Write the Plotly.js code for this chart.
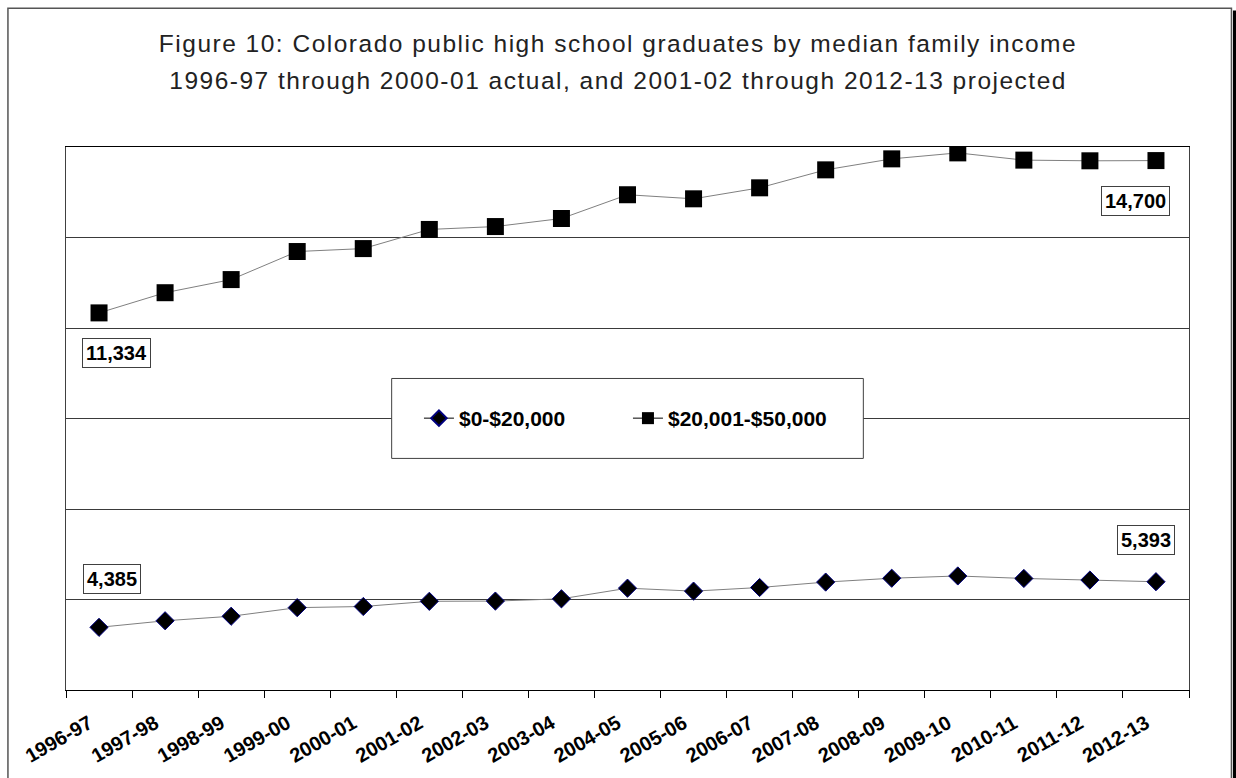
<!DOCTYPE html>
<html>
<head>
<meta charset="utf-8">
<script src="https://cdn.plot.ly/plotly-3.0.1.min.js"></script>
<style>
  html, body { margin: 0; padding: 0; background: #fff; }
  #chart { width: 1236px; height: 778px; }
  #chart .gtitle { letter-spacing: 1.5px; }
  #chart .annotation[data-index="0"] .annotation-text { letter-spacing: 1.5px; }
  #chart .legend .legendlines path { stroke-width: 1px !important; stroke: #000 !important; }
</style>
</head>
<body>
<div id="chart"></div>
<script>
const titleLine1 = 'Figure 10: Colorado public high school graduates by median family income';
const titleLine2 = '1996-97 through 2000-01 actual, and 2001-02 through 2012-13 projected';

const categories = ['1996-97','1997-98','1998-99','1999-00','2000-01','2001-02','2002-03','2003-04',
  '2004-05','2005-06','2006-07','2007-08','2008-09','2009-10','2010-11','2011-12','2012-13'];

const seriesNames = ['$0-$20,000', '$20,001-$50,000'];

const lowIncome = [4385, 4530, 4630, 4820, 4845, 4960, 4965, 5015, 5250, 5185, 5265, 5385, 5470, 5520, 5465, 5430, 5393];
const midIncome = [11334, 11780, 12070, 12690, 12755, 13178, 13242, 13420, 13945, 13855, 14098, 14495, 14738, 14870, 14710, 14695, 14700];

const yRange = [3000, 15000];
const yStep = 2000;

const fontFamily = '"Liberation Sans", Arial, Helvetica, sans-serif';

const traces = [
  {
    type: 'scatter', mode: 'lines+markers', name: seriesNames[0],
    x: categories, y: lowIncome,
    line: { color: '#808080', width: 1 },
    marker: { symbol: 'diamond', size: 14, color: '#000000', line: { color: '#000080', width: 1 } },
    hoverinfo: 'x+y+name'
  },
  {
    type: 'scatter', mode: 'lines+markers', name: seriesNames[1],
    x: categories, y: midIncome,
    line: { color: '#808080', width: 1 },
    marker: { symbol: 'square', size: 17, color: '#000000', line: { width: 0 } },
    hoverinfo: 'x+y+name'
  }
];

function fmt(v) { return v.toLocaleString('en-US'); }

const labelFont = { family: fontFamily, size: 20, color: '#000', weight: 'bold' };
const last = categories.length - 1;

function dataLabel(series, idx, xshift, yshift) {
  return {
    x: categories[idx], y: series[idx], xref: 'x', yref: 'y',
    text: '<b>' + fmt(series[idx]) + '</b>', showarrow: false,
    xshift: xshift, yshift: yshift,
    font: labelFont, bgcolor: '#ffffff', bordercolor: '#404040', borderwidth: 1, borderpad: 3
  };
}

const layout = {
  width: 1236, height: 778,
  paper_bgcolor: '#ffffff', plot_bgcolor: '#ffffff',
  margin: { l: 66, r: 47, t: 147, b: 88, pad: 0 },
  font: { family: fontFamily, color: '#000' },
  title: {
    text: titleLine1,
    font: { family: fontFamily, size: 24.5, color: '#222222' },
    xref: 'container', x: 0.5, xanchor: 'center',
    yref: 'container', y: 1 - 43 / 778, yanchor: 'middle'
  },
  showlegend: true,
  legend: {
    orientation: 'h', x: 0.3143, xanchor: 'left', y: 0.5, yanchor: 'middle',
    bgcolor: 'rgba(0,0,0,0)', borderwidth: 0,
    font: { family: fontFamily, size: 21, color: '#000', weight: 'bold' },
    itemsizing: 'constant', entrywidth: 164, traceorder: 'normal'
  },
  xaxis: {
    type: 'category', categoryorder: 'array', categoryarray: categories,
    range: [-0.5, categories.length - 0.5], autorange: false,
    showgrid: false, zeroline: false,
    showline: true, linecolor: '#000000', linewidth: 1, mirror: true,
    ticks: 'outside', tickson: 'boundaries', ticklen: 7, tickwidth: 1, tickcolor: '#000',
    tickangle: -30, ticklabelstandoff: 13, ticklabelshift: -10,
    tickfont: { family: fontFamily, size: 20, color: '#000', weight: 'bold' },
    fixedrange: true
  },
  yaxis: {
    range: yRange, autorange: false, tick0: yRange[0], dtick: yStep,
    showgrid: true, gridcolor: '#3a3a3a', gridwidth: 1,
    zeroline: false, showticklabels: false, ticks: '',
    showline: true, linecolor: '#404040', linewidth: 1, mirror: true,
    fixedrange: true
  },
  shapes: [
    // legend box
    { type: 'rect', xref: 'paper', yref: 'paper', x0: 0.290, x1: 0.710, y0: 0.4265, y1: 0.5737,
      fillcolor: '#ffffff', line: { color: '#404040', width: 1 }, layer: 'above' },
    // outer chart frame
    { type: 'rect', xref: 'paper', yref: 'paper', x0: -0.0517, x1: 1.0378, y0: -0.20, y1: 1.2553,
      fillcolor: 'rgba(0,0,0,0)', line: { color: '#555555', width: 1.5 }, layer: 'below' },
    // right shadow bar
    { type: 'line', xref: 'paper', yref: 'paper', x0: 1.0407, x1: 1.0407, y0: -0.20, y1: 1.2515,
      line: { color: '#000000', width: 3.5 }, layer: 'below' }
  ],
  annotations: [
    {
      text: titleLine2, showarrow: false,
      xref: 'paper', x: (618 - 66) / 1123, xanchor: 'center',
      yref: 'paper', y: (690 - 80) / 543.3, yanchor: 'middle',
      font: { family: fontFamily, size: 24.5, color: '#222222' }
    },
    dataLabel(midIncome, 0, 17, -40),
    dataLabel(midIncome, last, -20, -40),
    dataLabel(lowIncome, 0, 13, 48),
    dataLabel(lowIncome, last, -10, 42)
  ]
};

Plotly.newPlot('chart', traces, layout, { displayModeBar: false, staticPlot: false, responsive: false });
</script>
</body>
</html>
